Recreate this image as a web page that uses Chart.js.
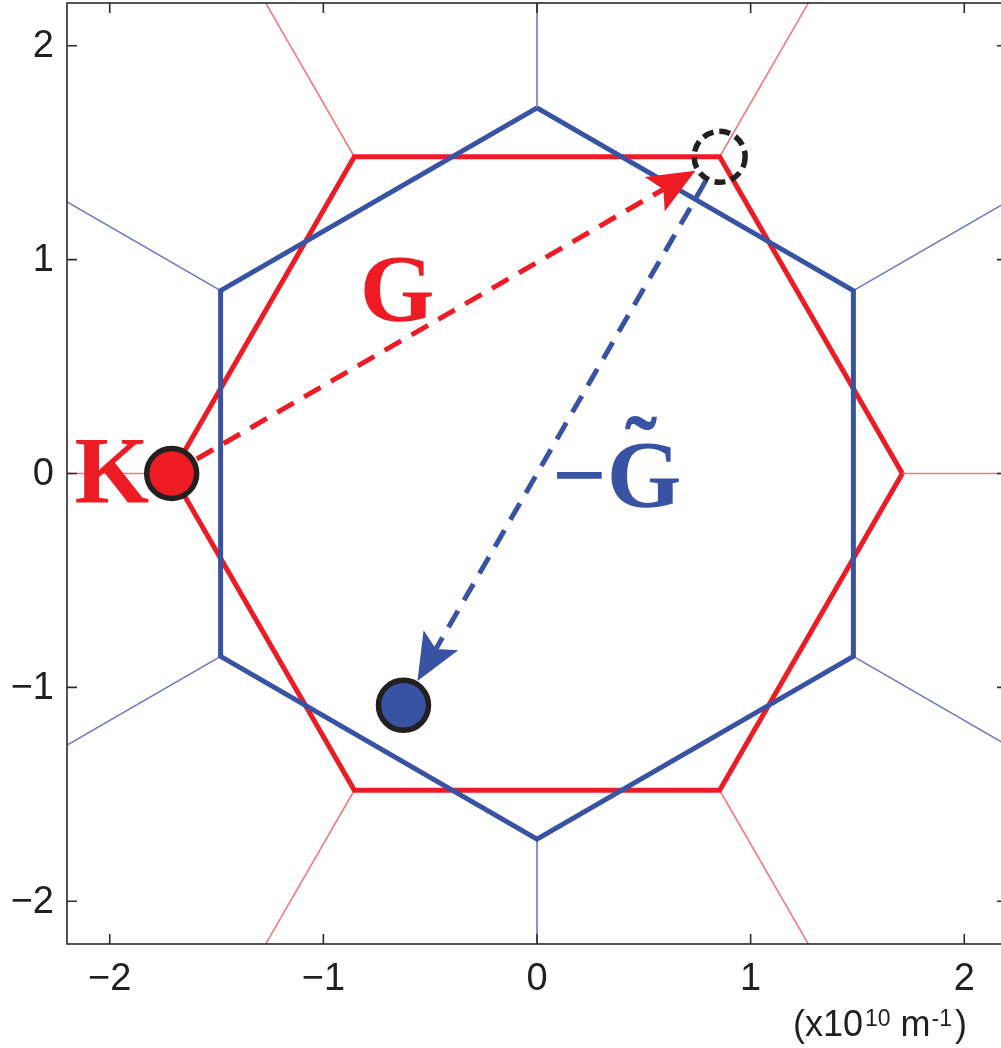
<!DOCTYPE html>
<html>
<head>
<meta charset="utf-8">
<script src="https://cdn.jsdelivr.net/npm/chart.js@4.4.1/dist/chart.umd.min.js"></script>
<style>
  html, body { margin: 0; padding: 0; overflow: hidden; background: #ffffff; }
  canvas { display: block; }
</style>
</head>
<body>
<canvas id="bz" width="1012" height="1048"></canvas>
<script>
// Axis range and ticks (units of 1e10 m^-1)
const axisRange = [-2.2, 2.2];
const tickValues = [-2, -1, 0, 1, 2];
const tickLabels = ['−2', '−1', '0', '1', '2'];

// First Brillouin zone of the red lattice (closed hexagon)
const redZoneX = [1.71, 0.855, -0.855, -1.71, -0.855, 0.855, 1.71];
const redZoneY = [0, 1.481, 1.481, 0, -1.481, -1.481, 0];

// First Brillouin zone of the blue lattice (rotated by 30 degrees)
const blueZoneX = [0, 1.481, 1.481, 0, -1.481, -1.481, 0];
const blueZoneY = [1.71, 0.855, -0.855, -1.71, -0.855, 0.855, 1.71];

// Neighbouring zone boundaries leaving each corner (start -> end, clipped by the axes)
const redEdgeStartX = [1.71, 0.855, -0.855, -1.71, -0.855, 0.855];
const redEdgeStartY = [0, 1.481, 1.481, 0, -1.481, -1.481];
const redEdgeEndX = [2.6, 1.3, -1.3, -2.6, -1.3, 1.3];
const redEdgeEndY = [0, 2.252, 2.252, 0, -2.252, -2.252];

const blueEdgeStartX = [0, 1.481, 1.481, 0, -1.481, -1.481];
const blueEdgeStartY = [1.71, 0.855, -0.855, -1.71, -0.855, 0.855];
const blueEdgeEndX = [0, 2.252, 2.252, 0, -2.252, -2.252];
const blueEdgeEndY = [2.6, 1.3, -1.3, -2.6, -1.3, 1.3];

// Wave vectors: K, K + G (dashed circle) and K + G - G~
const kPoint = [-1.71, 0];
const shiftedPoint = [0.855, 1.481];
const finalPoint = [-0.625, -1.084];

const RED = '#ED1C24';
const BLUE = '#3953A4';
const RED_THIN = '#F37A80';
const BLUE_THIN = '#6E78C2';
const INK = '#231F20';

function pairs(xs, ys) { return xs.map((x, i) => ({ x: x, y: ys[i] })); }

const datasets = [];

// Marker circles (on top of the zone boundaries)
datasets.push({
  data: [{ x: kPoint[0], y: kPoint[1] }],
  showLine: false, pointRadius: 25, pointBorderWidth: 5.5,
  pointBackgroundColor: RED, pointBorderColor: INK, order: 0
});
datasets.push({
  data: [{ x: finalPoint[0], y: finalPoint[1] }],
  showLine: false, pointRadius: 25, pointBorderWidth: 5.5,
  pointBackgroundColor: BLUE, pointBorderColor: INK, order: 0
});

// Zone hexagons
datasets.push({
  data: pairs(blueZoneX, blueZoneY), showLine: true, borderColor: BLUE,
  borderWidth: 5, pointRadius: 0, borderJoinStyle: 'miter', order: 2, clip: 0
});
datasets.push({
  data: pairs(redZoneX, redZoneY), showLine: true, borderColor: RED,
  borderWidth: 5, pointRadius: 0, borderJoinStyle: 'miter', order: 3, clip: 0
});

// Thin outer boundaries
redEdgeStartX.forEach((sx, i) => datasets.push({
  data: [{ x: sx, y: redEdgeStartY[i] }, { x: redEdgeEndX[i], y: redEdgeEndY[i] }],
  showLine: true, borderColor: RED_THIN, borderWidth: 1.6, pointRadius: 0, order: 5, clip: 0
}));
blueEdgeStartX.forEach((sx, i) => datasets.push({
  data: [{ x: sx, y: blueEdgeStartY[i] }, { x: blueEdgeEndX[i], y: blueEdgeEndY[i] }],
  showLine: true, borderColor: BLUE_THIN, borderWidth: 1.6, pointRadius: 0, order: 4, clip: 0
}));

// Text labels placed in data coordinates (left edge, baseline); tilde marks an accent over the last letter
const textLabels = [
  { text: 'K', x: -2.165, y: -0.14, color: RED, tilde: false },
  { text: 'G', x: -0.83, y: 0.711, color: RED, tilde: false },
  { text: '−G', x: 0.07, y: -0.156, color: BLUE, tilde: true }
];

const TICK_FONT = '38px "Liberation Sans", Arial, sans-serif';
const LABEL_FONT = 'bold 96px "Liberation Serif", "DejaVu Serif", serif';

function drawArrow(ctx, x0, y0, x1, y1, startGap, endGap, color) {
  const dx = x1 - x0, dy = y1 - y0;
  const len = Math.hypot(dx, dy);
  const ux = dx / len, uy = dy / len;
  const nx = -uy, ny = ux;
  const sx = x0 + ux * startGap, sy = y0 + uy * startGap;
  const tx = x1 - ux * endGap, ty = y1 - uy * endGap;
  const headLen = 47, headHalf = 20, notch = 37;
  ctx.save();
  ctx.strokeStyle = color;
  ctx.lineWidth = 5;
  ctx.setLineDash([19, 12]);
  ctx.beginPath();
  ctx.moveTo(sx, sy);
  ctx.lineTo(tx - ux * notch, ty - uy * notch);
  ctx.stroke();
  ctx.setLineDash([]);
  ctx.fillStyle = color;
  ctx.beginPath();
  ctx.moveTo(tx, ty);
  ctx.lineTo(tx - ux * headLen + nx * headHalf, ty - uy * headLen + ny * headHalf);
  ctx.lineTo(tx - ux * notch, ty - uy * notch);
  ctx.lineTo(tx - ux * headLen - nx * headHalf, ty - uy * headLen - ny * headHalf);
  ctx.closePath();
  ctx.fill();
  ctx.restore();
}

const overlay = {
  id: 'overlay',
  afterDatasetsDraw(chart) {
    const ctx = chart.ctx;
    const xs = chart.scales.x, ys = chart.scales.y;
    const px = v => xs.getPixelForValue(v);
    const py = v => ys.getPixelForValue(v);
    const area = chart.chartArea;

    // Arrows G and -G~
    drawArrow(ctx, px(kPoint[0]), py(kPoint[1]), px(shiftedPoint[0]), py(shiftedPoint[1]), 29, 28, RED);
    drawArrow(ctx, px(shiftedPoint[0]), py(shiftedPoint[1]), px(finalPoint[0]), py(finalPoint[1]), 28, 28, BLUE);

    // Dashed circle at K + G
    ctx.save();
    ctx.strokeStyle = INK;
    ctx.lineWidth = 5.5;
    ctx.setLineDash([11, 6]);
    ctx.beginPath();
    ctx.arc(px(shiftedPoint[0]), py(shiftedPoint[1]), 25.5, 0, Math.PI * 2);
    ctx.stroke();
    ctx.restore();

    // Labels
    ctx.save();
    ctx.font = LABEL_FONT;
    ctx.textBaseline = 'alphabetic';
    ctx.textAlign = 'left';
    textLabels.forEach(l => {
      const x = px(l.x), y = py(l.y);
      ctx.fillStyle = l.color;
      ctx.fillText(l.text, x, y);
      if (l.tilde) {
        const last = l.text.slice(-1);
        const lx = x + ctx.measureText(l.text).width - ctx.measureText(last).width;
        const cx = lx + ctx.measureText(last).width / 2 - 3;
        const cy = y - 84;
        const m = ctx.measureText('˜');
        ctx.fillText('˜', cx - (m.actualBoundingBoxRight - m.actualBoundingBoxLeft) / 2,
          cy + (m.actualBoundingBoxAscent - m.actualBoundingBoxDescent) / 2);
      }
    });
    ctx.restore();

    // Frame and inward tick marks on all four sides
    ctx.save();
    ctx.strokeStyle = '#2a2a2a';
    ctx.lineWidth = 1.6;
    ctx.strokeRect(area.left, area.top, area.right - area.left, area.bottom - area.top);
    const tl = 10;
    ctx.beginPath();
    tickValues.forEach(v => {
      const x = px(v), y = py(v);
      ctx.moveTo(x, area.bottom); ctx.lineTo(x, area.bottom - tl);
      ctx.moveTo(x, area.top); ctx.lineTo(x, area.top + tl);
      ctx.moveTo(area.left, y); ctx.lineTo(area.left + tl, y);
      ctx.moveTo(area.right, y); ctx.lineTo(area.right - tl, y);
    });
    ctx.stroke();
    ctx.restore();

    // Tick labels
    ctx.save();
    ctx.fillStyle = INK;
    ctx.font = TICK_FONT;
    ctx.textAlign = 'center';
    ctx.textBaseline = 'alphabetic';
    tickValues.forEach((v, i) => ctx.fillText(tickLabels[i], px(v), area.bottom + 46));
    ctx.textAlign = 'right';
    ctx.textBaseline = 'middle';
    tickValues.forEach((v, i) => ctx.fillText(tickLabels[i], area.left - 13, py(v) + 1));
    ctx.restore();

    // Unit label: (x10^10 m^-1)
    ctx.save();
    ctx.fillStyle = INK;
    ctx.textBaseline = 'alphabetic';
    ctx.textAlign = 'left';
    const mainFont = '36px "Liberation Sans", Arial, sans-serif';
    const supFont = '23px "Liberation Sans", Arial, sans-serif';
    const base = 1036, supBase = 1026;
    const parts = [
      ['(x10', mainFont, base, 2], ['10', supFont, supBase, 0], [' m', mainFont, base, 1],
      ['-1', supFont, supBase, 3], [')', mainFont, base, 0]
    ];
    let cx = 793;
    parts.forEach(p => {
      ctx.font = p[1];
      ctx.fillText(p[0], cx, p[2]);
      cx += ctx.measureText(p[0]).width + p[3];
    });
    ctx.restore();
  }
};

new Chart(document.getElementById('bz'), {
  type: 'scatter',
  data: { datasets: datasets },
  options: {
    responsive: false,
    animation: false,
    devicePixelRatio: 1,
    layout: { autoPadding: false, padding: { top: 3, right: 5, left: 0, bottom: 0 } },
    plugins: { legend: { display: false }, tooltip: { enabled: false } },
    elements: { line: { tension: 0 } },
    scales: {
      x: {
        type: 'linear', min: axisRange[0], max: axisRange[1],
        afterBuildTicks: s => { s.ticks = tickValues.map(v => ({ value: v })); },
        afterFit: s => { s.height = 104; },
        grid: { display: false, drawTicks: false },
        border: { display: false },
        ticks: { display: false }
      },
      y: {
        type: 'linear', min: axisRange[0], max: axisRange[1],
        afterBuildTicks: s => { s.ticks = tickValues.map(v => ({ value: v })); },
        afterFit: s => { s.width = 67; },
        grid: { display: false, drawTicks: false },
        border: { display: false },
        ticks: { display: false }
      }
    }
  },
  plugins: [overlay]
});
</script>
</body>
</html>
